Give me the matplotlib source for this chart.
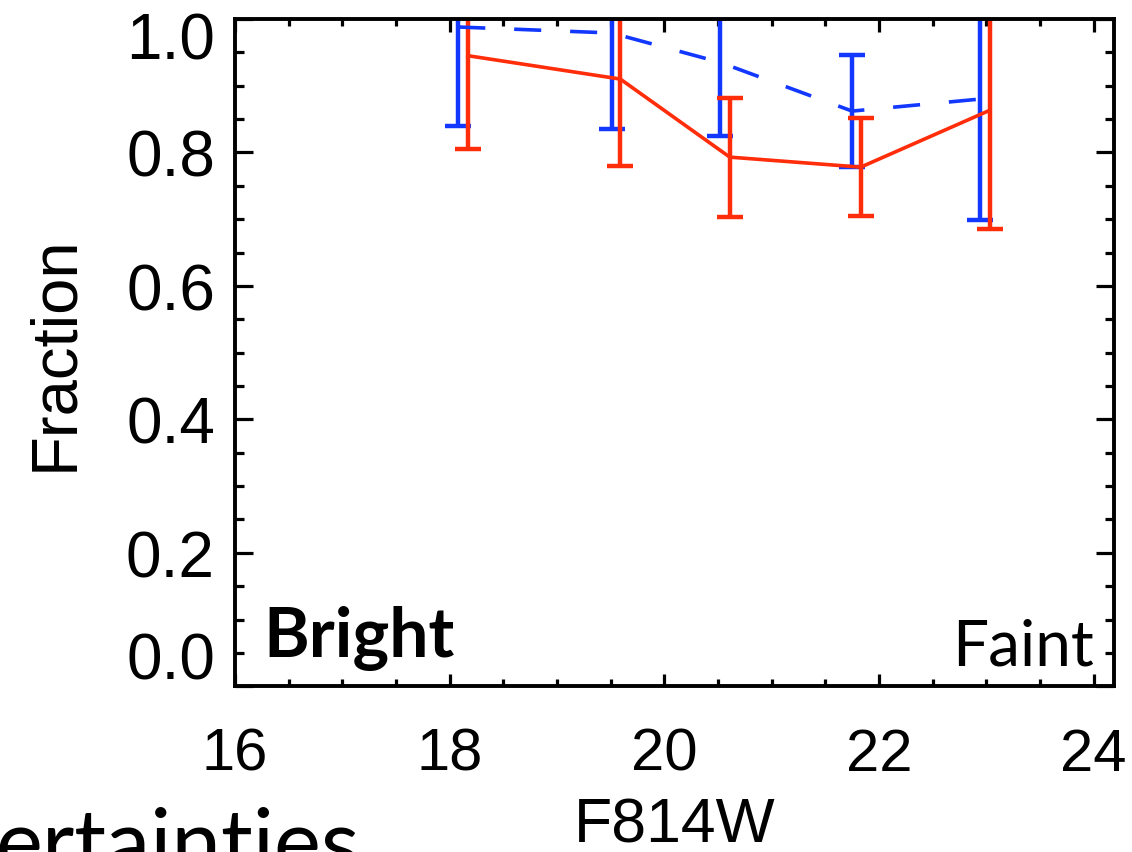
import numpy as np
import matplotlib.pyplot as plt
import matplotlib.transforms as mtransforms
from matplotlib.ticker import MultipleLocator, FixedLocator

# magnitudes (F814W) of the two samples
blue_x = [18.08, 19.51, 20.52, 21.75, 22.94]
blue_y = [0.988, 0.979, 0.935, 0.862, 0.880]
blue_err = [0.148, 0.144, 0.110, 0.084, 0.181]

red_x = [18.17, 19.59, 20.61, 21.83, 23.03]
red_y = [0.945, 0.910, 0.793, 0.778, 0.863]
red_err = [0.140, 0.131, 0.089, 0.073, 0.178]

yticks = [0.0, 0.2, 0.4, 0.6, 0.8, 1.0]
xticks = [16, 18, 20, 22, 24]

blue = '#1238ff'
red = '#ff2d0a'

plt.rcParams['font.family'] = ['Liberation Sans', 'DejaVu Sans']

fig = plt.figure(figsize=(11.32, 8.53), dpi=100)
ax = fig.add_axes([235/1132, 1 - 687.3/853, (1114 - 235)/1132, (687.3 - 20)/853])

lw = 2.6
elw = 3.2
ax.errorbar(blue_x, blue_y, yerr=blue_err, color=blue, lw=lw, elinewidth=elw,
            capsize=9.6, capthick=elw, dashes=(7.5, 8))
ax.errorbar(red_x, red_y, yerr=red_err, color=red, lw=lw, elinewidth=elw,
            capsize=9.6, capthick=elw)

ax.set_xlim(16, 24.19)
ax.set_ylim(0, 1.0)
ax.xaxis.set_major_locator(FixedLocator(xticks))
ax.xaxis.set_minor_locator(MultipleLocator(0.5))
ax.yaxis.set_major_locator(FixedLocator(yticks))
ax.yaxis.set_minor_locator(MultipleLocator(0.05))
ax.set_yticklabels(['%.1f' % v for v in yticks])

for s in ax.spines.values():
    s.set_linewidth(2.8)
ax.tick_params(axis='both', which='both', direction='in', top=True, right=True, width=2.3)
ax.tick_params(axis='x', which='major', length=9, pad=29, labelsize=43)
ax.tick_params(axis='x', which='minor', length=4.9)
ax.tick_params(axis='y', which='major', length=12.7, pad=14.4, labelsize=46)
ax.tick_params(axis='y', which='minor', length=6.5)

ax.set_xlabel('F814W', fontsize=45)
ax.xaxis.set_label_coords(0.5, -0.163)
ax.set_ylabel('Fraction', fontsize=47)
ax.yaxis.set_label_coords(-0.17, 0.5)

# end labels sit inside the frame like in the original
labs = ax.get_yticklabels()
labs[0].set_transform(labs[0].get_transform() + mtransforms.ScaledTranslation(0, 0.31, fig.dpi_scale_trans))
labs[-1].set_transform(labs[-1].get_transform() + mtransforms.ScaledTranslation(0, -0.16, fig.dpi_scale_trans))

ax.text(16.26, 0.045, 'Bright', family=['Lato', 'DejaVu Sans'], weight='bold',
        fontsize=50, ha='left', va='baseline')
ax.text(24.0, 0.033, 'Faint', family=['Lato', 'DejaVu Sans'],
        fontsize=46, ha='right', va='baseline')

fig.text(360/1132, -20/853, 'ertainties', family=['Lato', 'DejaVu Sans'],
         fontsize=64, ha='right', va='baseline')

fig.savefig('out.png', dpi=100)
